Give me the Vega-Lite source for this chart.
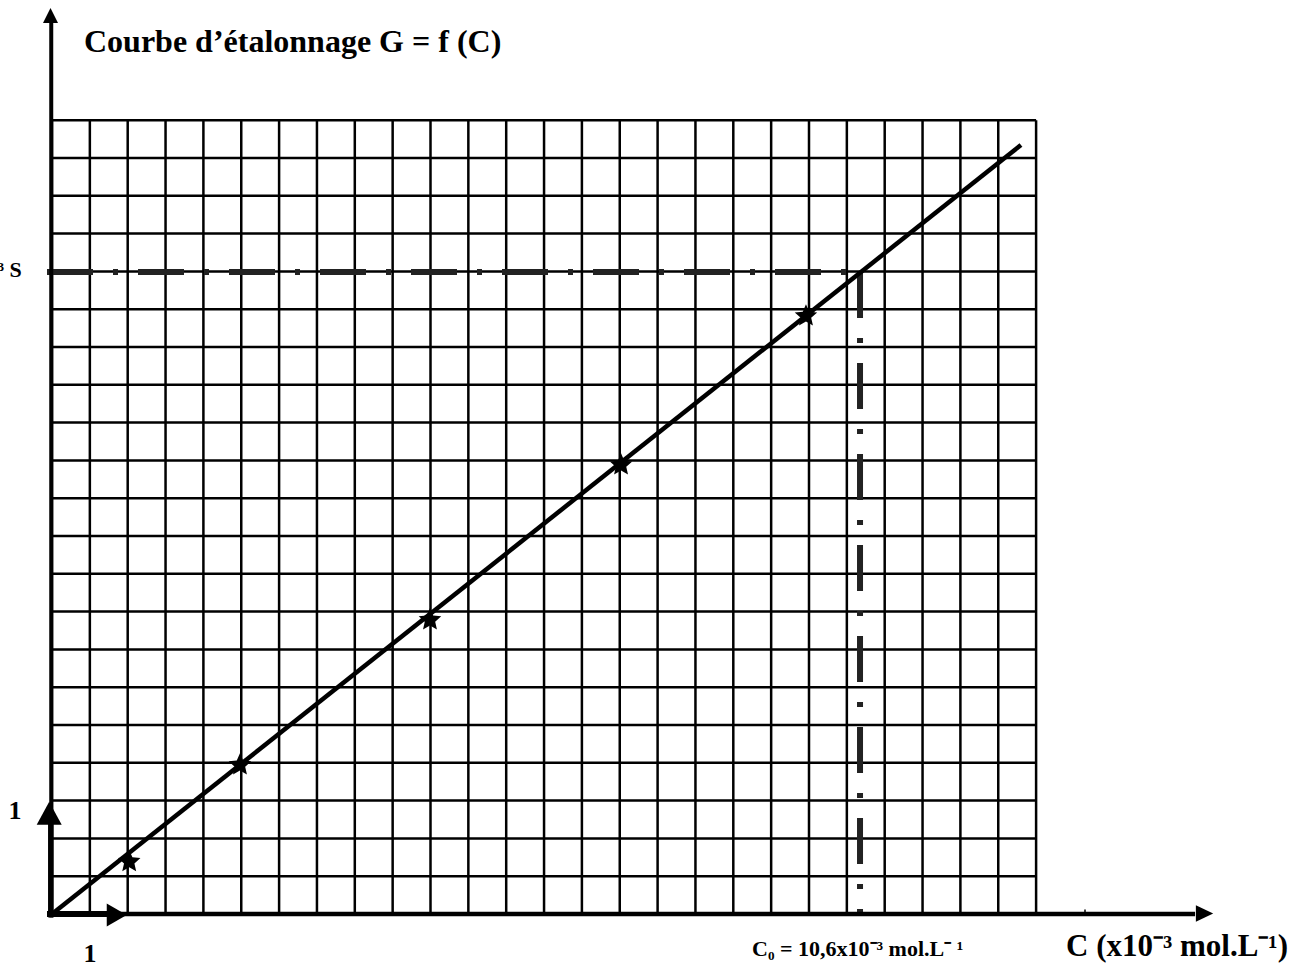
{
  "$schema": "https://vega.github.io/schema/vega-lite/v6.json",
  "width": 1309,
  "height": 966,
  "autosize": "none",
  "padding": 0,
  "background": "white",
  "config": {"view": {"stroke": null}, "axis": {"disable": true}},
  "encoding": {
    "x": {"field": "C", "type": "quantitative", "scale": {"domain": [-0.68692, 16.605], "nice": false, "zero": false}, "axis": null},
    "y": {"field": "G", "type": "quantitative", "scale": {"domain": [-0.45855, 8.06], "nice": false, "zero": false}, "axis": null}
  },
  "layer": [
    {
      "data": {"values": [
        {"C": 0, "G": 0, "G2": 7}, {"C": 0.5, "G": 0, "G2": 7}, {"C": 1, "G": 0, "G2": 7}, {"C": 1.5, "G": 0, "G2": 7},
        {"C": 2, "G": 0, "G2": 7}, {"C": 2.5, "G": 0, "G2": 7}, {"C": 3, "G": 0, "G2": 7}, {"C": 3.5, "G": 0, "G2": 7},
        {"C": 4, "G": 0, "G2": 7}, {"C": 4.5, "G": 0, "G2": 7}, {"C": 5, "G": 0, "G2": 7}, {"C": 5.5, "G": 0, "G2": 7},
        {"C": 6, "G": 0, "G2": 7}, {"C": 6.5, "G": 0, "G2": 7}, {"C": 7, "G": 0, "G2": 7}, {"C": 7.5, "G": 0, "G2": 7},
        {"C": 8, "G": 0, "G2": 7}, {"C": 8.5, "G": 0, "G2": 7}, {"C": 9, "G": 0, "G2": 7}, {"C": 9.5, "G": 0, "G2": 7},
        {"C": 10, "G": 0, "G2": 7}, {"C": 10.5, "G": 0, "G2": 7}, {"C": 11, "G": 0, "G2": 7}, {"C": 11.5, "G": 0, "G2": 7},
        {"C": 12, "G": 0, "G2": 7}, {"C": 12.5, "G": 0, "G2": 7}, {"C": 13, "G": 0, "G2": 7}
      ]},
      "mark": {"type": "rule", "stroke": "black", "strokeWidth": 2.5},
      "encoding": {"y2": {"field": "G2"}}
    },
    {
      "data": {"values": [
        {"G": 0, "C": 0, "C2": 13}, {"G": 0.3333, "C": 0, "C2": 13}, {"G": 0.6667, "C": 0, "C2": 13}, {"G": 1, "C": 0, "C2": 13},
        {"G": 1.3333, "C": 0, "C2": 13}, {"G": 1.6667, "C": 0, "C2": 13}, {"G": 2, "C": 0, "C2": 13}, {"G": 2.3333, "C": 0, "C2": 13},
        {"G": 2.6667, "C": 0, "C2": 13}, {"G": 3, "C": 0, "C2": 13}, {"G": 3.3333, "C": 0, "C2": 13}, {"G": 3.6667, "C": 0, "C2": 13},
        {"G": 4, "C": 0, "C2": 13}, {"G": 4.3333, "C": 0, "C2": 13}, {"G": 4.6667, "C": 0, "C2": 13}, {"G": 5, "C": 0, "C2": 13},
        {"G": 5.3333, "C": 0, "C2": 13}, {"G": 5.6667, "C": 0, "C2": 13}, {"G": 6, "C": 0, "C2": 13}, {"G": 6.3333, "C": 0, "C2": 13},
        {"G": 6.6667, "C": 0, "C2": 13}, {"G": 7, "C": 0, "C2": 13}
      ]},
      "mark": {"type": "rule", "stroke": "black", "strokeWidth": 2.5},
      "encoding": {"x2": {"field": "C2"}}
    },
    {
      "data": {"values": [{"C": -0.066, "C2": 10.674, "G": 5.661}]},
      "mark": {"type": "rule", "stroke": "#222222", "strokeWidth": 6, "strokeDash": [46, 20, 5, 20]},
      "encoding": {"x2": {"field": "C2"}}
    },
    {
      "data": {"values": [{"C": 10.674, "G": 5.661, "G2": 0}]},
      "mark": {"type": "rule", "stroke": "#222222", "strokeWidth": 6, "strokeDash": [46, 20, 5, 20]},
      "encoding": {"y2": {"field": "G2"}}
    },
    {
      "data": {"values": [{"C": 0, "G": 0}, {"C": 12.8, "G": 6.781}]},
      "mark": {"type": "line", "stroke": "black", "strokeWidth": 4.5, "strokeCap": "butt"},
      "encoding": {"order": {"field": "C"}}
    },
    {
      "data": {"values": [
        {"C": 1.02, "G": 0.461},
        {"C": 2.483, "G": 1.314},
        {"C": 4.993, "G": 2.593},
        {"C": 7.517, "G": 3.959},
        {"C": 9.96, "G": 5.273}
      ]},
      "mark": {"type": "point", "shape": "M0,-1L0.27,-0.37L0.951,-0.309L0.44,0.143L0.588,0.809L0,0.46L-0.588,0.809L-0.44,0.143L-0.951,-0.309L-0.27,-0.37Z", "size": 560, "filled": true, "color": "black", "opacity": 1}
    },
    {
      "data": {"values": [{"C": -0.01, "G": -0.03, "G2": 7.866}]},
      "mark": {"type": "rule", "stroke": "black", "strokeWidth": 4},
      "encoding": {"y2": {"field": "G2"}}
    },
    {
      "data": {"values": [{"C": -0.066, "C2": 15.1, "G": 0}]},
      "mark": {"type": "rule", "stroke": "black", "strokeWidth": 4.5},
      "encoding": {"x2": {"field": "C2"}}
    },
    {
      "data": {"values": [{"C": -0.066, "C2": 0.75, "G": 0}]},
      "mark": {"type": "rule", "stroke": "black", "strokeWidth": 6},
      "encoding": {"x2": {"field": "C2"}}
    },
    {
      "data": {"values": [{"C": -0.016, "G": -0.03, "G2": 0.8}]},
      "mark": {"type": "rule", "stroke": "black", "strokeWidth": 5.5},
      "encoding": {"y2": {"field": "G2"}}
    },
    {
      "data": {"values": [{"C": 13.646, "G": 0, "G2": 0.04}]},
      "mark": {"type": "rule", "stroke": "black", "strokeWidth": 1.5},
      "encoding": {"y2": {"field": "G2"}}
    },
    {
      "data": {"values": [{"C": -0.0198, "G": 7.923}]},
      "mark": {"type": "point", "shape": "M0,-1L1,1L-1,1Z", "size": 225, "filled": true, "color": "black", "opacity": 1}
    },
    {
      "data": {"values": [{"C": 15.225, "G": 0.004}]},
      "mark": {"type": "point", "shape": "M1,0L-1,-0.95L-1,0.95Z", "size": 300, "filled": true, "color": "black", "opacity": 1}
    },
    {
      "data": {"values": [{"C": 0.855, "G": -0.009}]},
      "mark": {"type": "point", "shape": "M1,0L-1,-1.15L-1,1.15Z", "size": 400, "filled": true, "color": "black", "opacity": 1}
    },
    {
      "data": {"values": [{"C": -0.037, "G": 0.888}]},
      "mark": {"type": "point", "shape": "M0,-1L1.087,1L-1.087,1Z", "size": 529, "filled": true, "color": "black", "opacity": 1}
    },
    {
      "data": {"values": [{"label": "Courbe d’étalonnage G = f (C)", "C": 0.4227, "G": 7.601}]},
      "mark": {"type": "text", "font": "Liberation Serif", "fontWeight": "bold", "fontSize": 32, "align": "left", "baseline": "alphabetic", "color": "black"},
      "encoding": {"text": {"field": "label"}}
    },
    {
      "data": {"values": [{"label": "³ S", "C": -0.4, "G": 5.617}]},
      "mark": {"type": "text", "font": "Liberation Serif", "fontWeight": "bold", "fontSize": 22, "align": "right", "baseline": "alphabetic", "color": "black"},
      "encoding": {"text": {"field": "label"}}
    },
    {
      "data": {"values": [{"label": "1", "C": -0.489, "G": 0.838}, {"label": "1", "C": 0.502, "G": -0.42}]},
      "mark": {"type": "text", "font": "Liberation Serif", "fontWeight": "bold", "fontSize": 26, "align": "center", "baseline": "alphabetic", "color": "black"},
      "encoding": {"text": {"field": "label"}}
    },
    {
      "data": {"values": [{"label": "C₀ = 10,6x10⁻³ mol.L⁻ ¹", "C": 9.247, "G": -0.37}]},
      "mark": {"type": "text", "font": "Liberation Serif", "fontWeight": "bold", "fontSize": 22, "align": "left", "baseline": "alphabetic", "color": "black"},
      "encoding": {"text": {"field": "label"}}
    },
    {
      "data": {"values": [{"label": "C (x10⁻³ mol.L⁻¹)", "C": 13.395, "G": -0.37}]},
      "mark": {"type": "text", "font": "Liberation Serif", "fontWeight": "bold", "fontSize": 31, "align": "left", "baseline": "alphabetic", "color": "black"},
      "encoding": {"text": {"field": "label"}}
    }
  ]
}
